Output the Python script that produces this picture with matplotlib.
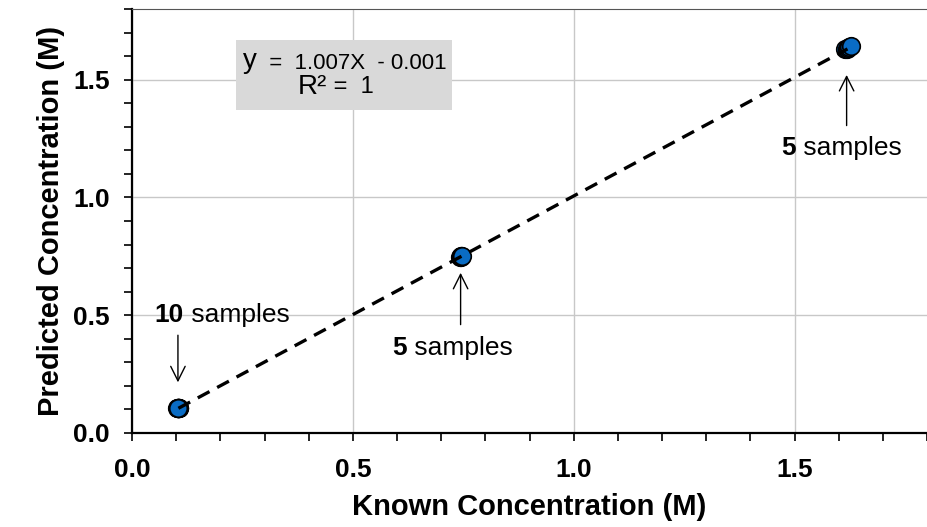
import numpy as np
import matplotlib
matplotlib.use('Agg')
import matplotlib.pyplot as plt
from matplotlib.ticker import MultipleLocator, FormatStrFormatter
from matplotlib.patches import Rectangle

plt.rcParams['font.family'] = ['Liberation Sans', 'DejaVu Sans']

# known vs predicted concentration (M), overlapping samples per level
known = [0.103, 0.105, 0.106, 0.104, 0.105, 0.107, 0.104, 0.106, 0.105, 0.105,
         0.742, 0.744, 0.746, 0.745, 0.748,
         1.615, 1.618, 1.621, 1.624, 1.628]
predicted = [0.104, 0.106, 0.105, 0.107, 0.105, 0.106, 0.104, 0.105, 0.106, 0.105,
             0.745, 0.748, 0.750, 0.752, 0.750,
             1.628, 1.632, 1.636, 1.638, 1.641]
slope, intercept = 1.007, -0.001
fit_x = [0.105, 1.62]

# (count, text x, text y, arrow x, arrow start y, arrow end y)
sample_notes = [('10', 0.118, 0.50, 0.104, 0.415, 0.215),
                ('5', 0.622, 0.36, 0.744, 0.46, 0.68),
                ('5', 1.503, 1.21, 1.618, 1.305, 1.52)]

fig = plt.figure(figsize=(9.27, 5.27), dpi=100)
ax = fig.add_axes([0.1424, 0.1784, 0.8576, 0.8046])

ax.grid(True, color='#c8c8c8', linewidth=1.0, zorder=0)
fx = np.array(fit_x)
ax.scatter(known, predicted, s=160, facecolor='#0a6cc4', edgecolor='black',
           linewidth=1.2, zorder=3)
ax.plot(fx, slope * fx + intercept, color='black', linewidth=2.4,
        dashes=(4, 2.6), zorder=4)

for num, tx, ty, arr_x, y0, y1 in sample_notes:
    ax.text(tx, ty, num, ha='right', va='center', fontsize=19, fontweight='bold')
    ax.text(tx, ty, ' samples', ha='left', va='center', fontsize=19)
    ax.annotate('', xy=(arr_x, y1), xytext=(arr_x, y0),
                arrowprops=dict(arrowstyle='->', color='black', lw=1.0,
                                mutation_scale=26, shrinkA=0, shrinkB=0))

# equation box
ax.add_patch(Rectangle((0.131, 0.762), 0.272, 0.165, transform=ax.transAxes,
                       facecolor='#d9d9d9', edgecolor='none', zorder=5))
eq_y = ax.text(0.140, 0.877, 'y', transform=ax.transAxes, ha='left', va='center',
               fontsize=20, zorder=6)
ax.annotate('  =  1.007X  - 0.001', xy=(1, 0.0), xycoords=eq_y, va='bottom',
            ha='left', fontsize=16, zorder=6)
eq_r = ax.text(0.208, 0.815, 'R²', transform=ax.transAxes, ha='left', va='center',
               fontsize=20, zorder=6)
ax.annotate(' =  1', xy=(1, 0.08), xycoords=eq_r, va='bottom', ha='left',
            fontsize=17, zorder=6)

ax.set_xlim(0, 1.8)
ax.set_ylim(0, 1.8)
ax.xaxis.set_major_locator(MultipleLocator(0.5))
ax.yaxis.set_major_locator(MultipleLocator(0.5))
ax.xaxis.set_minor_locator(MultipleLocator(0.1))
ax.yaxis.set_minor_locator(MultipleLocator(0.1))
ax.xaxis.set_major_formatter(FormatStrFormatter('%.1f'))
ax.yaxis.set_major_formatter(FormatStrFormatter('%.1f'))
ax.tick_params(which='both', direction='out', width=1.2, length=6, labelsize=19)
ax.tick_params(axis='x', pad=12)
ax.tick_params(axis='y', pad=10)
for lab in ax.get_xticklabels() + ax.get_yticklabels():
    lab.set_fontweight('bold')

for s in ['left', 'bottom']:
    ax.spines[s].set_linewidth(1.6)
ax.spines['top'].set_color('#555555')
ax.spines['right'].set_visible(False)

ax.set_xlabel('Known Concentration (M)', fontsize=21, fontweight='bold', labelpad=8)
ax.set_ylabel('Predicted Concentration (M)', fontsize=21, fontweight='bold', labelpad=6)

fig.savefig('out.png', dpi=100)
